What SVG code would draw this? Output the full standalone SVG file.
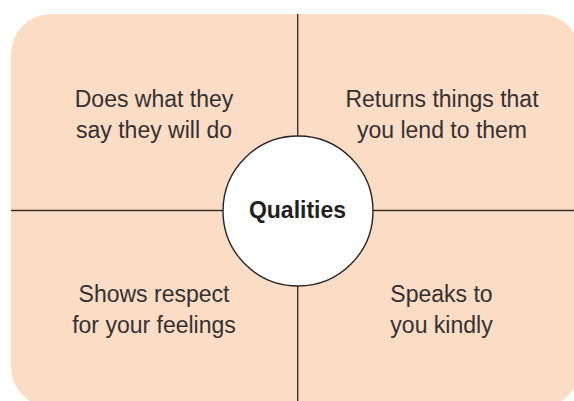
<svg xmlns="http://www.w3.org/2000/svg" width="574" height="401" viewBox="0 0 574 401">
  <style>
    .panel { fill: #fbdcc5; }
    .rule { stroke: #3a302c; stroke-width: 1.4; fill: none; }
    .hub { fill: #ffffff; stroke: #2a2424; stroke-width: 1.4; }
    .label { font-family: "Liberation Sans", Arial, sans-serif; font-size: 23px; fill: #353132; text-anchor: middle; }
    .hub-label { font-family: "Liberation Sans", Arial, sans-serif; font-size: 23px; font-weight: bold; fill: #231f20; text-anchor: middle; }
  </style>

  <!-- background panel -->
  <rect class="panel" x="11" y="14" width="569" height="393" rx="40" ry="40"/>

  <!-- dividing lines -->
  <g id="connectors">
    <line class="rule" x1="297.7" y1="14" x2="297.7" y2="407"/>
    <line class="rule" x1="11" y1="210.5" x2="580" y2="210.5"/>
  </g>

  <g id="quality-keeps-word">
    <text class="label" x="154" y="107">Does what they</text>
    <text class="label" x="154" y="138">say they will do</text>
  </g>

  <g id="quality-returns-things">
    <text class="label" x="442" y="107">Returns things that</text>
    <text class="label" x="442" y="138">you lend to them</text>
  </g>

  <g id="quality-respect">
    <text class="label" x="154" y="302">Shows respect</text>
    <text class="label" x="154" y="333">for your feelings</text>
  </g>

  <g id="quality-kindness">
    <text class="label" x="441.5" y="302">Speaks to</text>
    <text class="label" x="441.5" y="333">you kindly</text>
  </g>

  <g id="qualities-hub">
    <circle class="hub" cx="298" cy="211" r="75"/>
    <text class="hub-label" x="297.5" y="217.5">Qualities</text>
  </g>
</svg>
